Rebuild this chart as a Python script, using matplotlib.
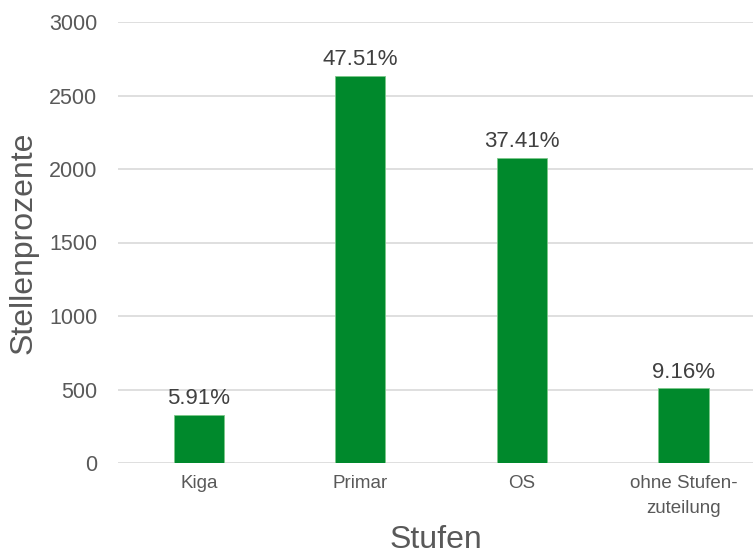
import matplotlib
matplotlib.use("Agg")
import matplotlib.pyplot as plt

categories = ["Kiga", "Primar", "OS", "ohne Stufen-\nzuteilung"]
values = [328, 2635, 2075, 508]
percent_labels = ["5.91%", "47.51%", "37.41%", "9.16%"]
yticks = [0, 500, 1000, 1500, 2000, 2500, 3000]

plt.rcParams['font.family'] = ['Liberation Sans', 'DejaVu Sans']
text_col = "#595959"
green = "#00892C"

fig = plt.figure(figsize=(7.53, 5.55), dpi=100)
W, H = 753, 555
ax = fig.add_axes([118 / W, 92 / H, (753 - 118) / W, (463 - 22) / H])

x = list(range(len(categories)))
bars = ax.bar(x, values, width=0.31, color=green, edgecolor="#7CC88A", linewidth=0.6, zorder=3)
for xi, v, lab in zip(x, values, percent_labels):
    ax.annotate(lab, (xi, v), xytext=(0, 4), textcoords="offset points",
                ha="center", va="bottom", fontsize=16, color="#404040")

ax.set_xlim(-0.5, 3.43)
ax.set_ylim(0, 3000)
ax.set_yticks(yticks)
ax.set_yticklabels([str(t) for t in yticks], fontsize=15.5, color=text_col)
ax.set_xticks(x)
ax.set_xticklabels(categories, fontsize=13.5, color=text_col, linespacing=1.55)
ax.tick_params(axis="both", length=0)
ax.tick_params(axis="y", pad=15)
ax.tick_params(axis="x", pad=9)
for lbl in ax.get_xticklabels():
    lbl.set_verticalalignment("top")
ax.grid(axis="y", color="#D9D9D9", linewidth=1.2, zorder=0)
for s in ax.spines.values():
    s.set_visible(False)

ax.set_ylabel("Stellenprozente", fontsize=23, color=text_col)
ax.set_xlabel("Stufen", fontsize=23, color=text_col)
ax.yaxis.set_label_coords(-94 / 635, 0.5)
ax.xaxis.set_label_coords(0.5, -(540 - 463) / 441)
ax.xaxis.label.set_verticalalignment("center")
ax.yaxis.label.set_verticalalignment("center")

fig.savefig("out.png", dpi=100)
